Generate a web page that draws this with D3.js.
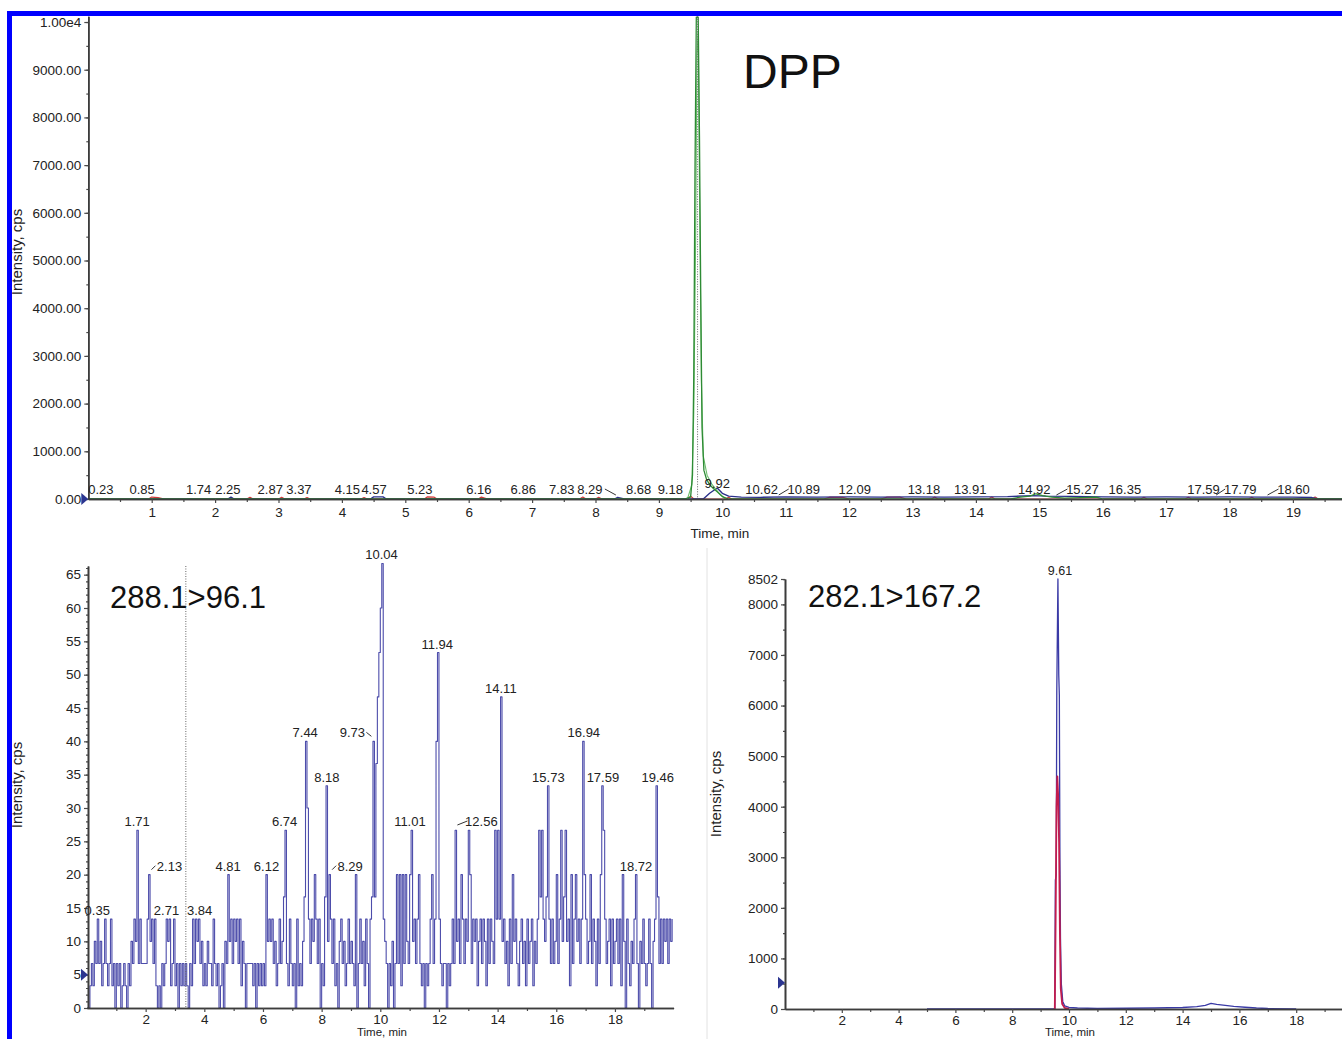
<!DOCTYPE html>
<html>
<head>
<meta charset="utf-8">
<script src="https://cdn.jsdelivr.net/npm/d3@7/dist/d3.min.js"></script>
<style>
  html, body { margin: 0; padding: 0; background: #fff; }
  svg { display: block; font-family: "Liberation Sans", Arial, sans-serif; }
  .axis path { stroke: #3c3c3c; stroke-width: 1.6; }
  .axis line { stroke: #4a4a4a; stroke-width: 1.2; }
  .axis text { fill: #222; font-size: 13.5px; font-family: "Liberation Sans", Arial, sans-serif; }
</style>
</head>
<body>
<svg id="chart" width="1342" height="1039"></svg>
<script>
// ---- top panel: DPP, all channels overlaid (time in min, intensity in cps)
const dppGreen = [[0,0],[9.40,0],[9.50,40],[9.53,500],[9.55,2600],[9.57,7000],[9.59,10100],[9.62,10100],
  [9.64,7600],[9.66,4300],[9.68,1500],[9.71,600],[9.75,420],[9.80,300],[9.86,220],[9.92,150],[10.00,50],
  [10.10,0],[14.55,0],[14.7,40],[14.85,60],[14.95,110],[15.05,70],[15.2,40],[15.4,20],[15.9,40],[16.0,0],[20,0]];
const dppGreen2 = [[9.45,0],[9.52,300],[9.55,1800],[9.58,5500],[9.60,9300],[9.62,9800],[9.64,6500],
  [9.67,2500],[9.70,900],[9.76,500],[9.84,300],[9.95,120],[10.05,0]];
const dppBlue = [[0,0],[2.2,0],[2.25,40],[2.3,0],[4.45,0],[4.5,45],[4.65,45],[4.7,0],[8.3,0],[8.35,35],
  [8.45,0],[9.7,0],[9.8,120],[9.92,230],[10.0,120],[10.1,60],[10.3,40],[10.6,35],[11,45],[11.5,40],[12,45],
  [12.5,40],[13,45],[13.5,40],[14,45],[14.5,50],[14.9,70],[15.1,60],[15.5,55],[16,45],[16.5,40],[17,45],
  [17.5,40],[18,45],[18.5,40],[19,40],[19.3,30],[19.4,0],[20,0]];
const dppRed = [[0,0],[0.95,0],[1.0,40],[1.1,30],[1.2,0],[2.5,0],[2.55,35],[2.6,0],[3.0,0],[3.05,35],
  [3.1,0],[3.4,0],[3.45,30],[3.5,0],[4.3,0],[4.35,30],[4.4,0],[5.3,0],[5.35,45],[5.45,40],[5.5,0],
  [6.15,0],[6.2,40],[6.3,0],[7.75,0],[7.8,40],[7.85,0],[8.0,0],[8.05,35],[8.1,0],[9.45,0],[9.5,60],
  [9.55,0],[10.05,0],[10.1,35],[10.15,0],[11.6,0],[11.7,40],[11.9,35],[12.0,0],[12.5,0],[12.6,40],
  [12.8,40],[12.9,0],[13.3,0],[13.35,40],[13.4,0],[14.2,0],[14.25,40],[14.3,0],[16.6,0],[16.65,35],
  [16.7,0],[17.3,0],[17.35,35],[17.4,0],[18.3,0],[18.35,35],[18.4,0],[19.3,0],[19.35,40],[19.4,0],[20,0]];
const dppLabels = ["0.23","0.85","1.74","2.25","2.87","3.37","4.15","4.57","5.23","6.16","6.86","7.83",
  "8.29","8.68","9.18","9.92","10.62","10.89","12.09","13.18","13.91","14.92","15.27","16.35","17.59",
  "17.79","18.60"];
const dppLabelHeights = {"9.92": 130};
const dppMarker = 9.61;

// ---- bottom left: 288.1>96.1, counts sampled every 0.05 min (one row per minute)
const ch288Step = 0.05;
const cpsPerCount = 10 / 3;
const ch288Counts = [
  [0,0,1,2,1,3,2,4,2,3,1,2,4,2,1,2,4,1,2,0],
  [2,1,2,0,1,2,1,0,2,1,3,2,4,3,8,2,4,2,2,2],
  [2,4,6,3,4,2,4,1,0,1,0,2,1,2,4,3,4,1,2,4],
  [1,2,0,2,1,2,1,2,1,0,2,1,4,2,4,3,4,2,3,1],
  [2,1,3,2,2,1,4,2,1,2,0,1,2,0,3,2,6,3,4,2],
  [4,3,4,2,4,1,3,2,0,2,2,2,2,1,2,0,2,1,2,1],
  [2,1,6,3,4,3,4,2,3,1,2,4,2,3,5,8,2,1,4,2],
  [1,2,0,4,1,2,1,3,5,12,9,4,2,4,3,6,4,2,4,0],
  [2,1,5,10,3,6,4,2,4,1,2,0,3,4,2,3,1,2,4,2],
  [3,2,1,6,0,2,4,2,3,1,4,2,0,4,5,12,5,11,14,16],
  [18,20,4,3,2,0,2,1,3,0,2,6,2,6,1,6,2,6,3,2],
  [6,8,3,4,2,4,6,2,1,2,0,2,1,2,4,6,2,4,12,16],
  [4,2,1,2,2,0,2,1,2,4,2,8,3,4,2,6,4,2,4,3],
  [8,6,2,4,3,4,1,3,4,2,4,3,1,4,2,4,3,2,8,4],
  [8,4,14,3,4,2,3,1,4,2,6,3,4,2,1,3,4,2,3,1],
  [4,2,3,4,1,3,2,4,8,5,8,4,3,5,10,4,2,4,2,3],
  [6,2,4,8,3,5,8,3,4,1,6,2,4,6,3,4,2,4,12,6],
  [4,2,3,6,2,4,3,1,4,2,6,10,8,4,2,3,4,1,4,2],
  [3,4,2,4,1,6,3,0,4,2,1,3,2,4,6,2,0,3,2,4],
  [2,1,2,4,2,0,3,4,10,5,2,4,2,4,3,4,2,4,3,4]
];
// peak labels: [time, cps]
const ch288Labels = [[0.35,13.3],[1.71,26.7],[2.13,20],[2.71,13.3],[3.84,13.3],[4.81,20],[6.12,20],
  [6.74,26.7],[7.44,40],[8.18,33.3],[8.29,20],[9.73,40],[10.04,66.7],[11.01,26.7],[11.94,53.3],
  [12.56,26.7],[14.11,46.7],[15.73,33.3],[16.94,40],[17.59,33.3],[18.72,20],[19.46,33.3]];
const ch288Marker = 3.37;

// ---- bottom right: 282.1>167.2
const ch282Blue = [[5,0],[9.50,0],[9.52,2550],[9.55,2650],[9.57,6300],[9.61,8502],[9.64,6600],
  [9.66,6200],[9.68,3000],[9.70,1400],[9.73,500],[9.78,150],[9.85,60],[10.0,30],[10.3,20],[11,10],
  [12,15],[13,20],[13.5,25],[14,30],[14.5,45],[14.8,70],[15.0,110],[15.2,90],[15.5,70],[15.8,50],
  [16.2,35],[16.6,20],[17,10],[18,0]];
const ch282Red = [[9.46,0],[9.50,0],[9.53,1800],[9.56,4000],[9.59,4600],[9.62,4200],[9.65,3300],
  [9.68,1500],[9.71,400],[9.76,100],[9.85,20],[10,0]];
const ch282Labels = [[9.61, 8502]];

const svg = d3.select("#chart");

function drawLine(g, data, x, y, color, width, curve) {
  g.append("path")
    .datum(data)
    .attr("fill", "none")
    .attr("stroke", color)
    .attr("stroke-width", width)
    .attr("stroke-linejoin", "round")
    .attr("d", d3.line().curve(curve || d3.curveLinear).x(d => x(d[0])).y(d => y(d[1])));
}

function yAxis(g, scale, major, minor, fmt) {
  g.append("g").attr("class", "axis").attr("transform", `translate(${scale.x0},0)`)
    .call(d3.axisLeft(scale).tickValues(minor).tickSize(2).tickSizeOuter(0).tickFormat(""));
  g.append("g").attr("class", "axis").attr("transform", `translate(${scale.x0},0)`)
    .call(d3.axisLeft(scale).tickValues(major).tickSize(4).tickPadding(3).tickSizeOuter(0).tickFormat(fmt));
}

function xAxis(g, scale, y0, major, minor, pad) {
  g.append("g").attr("class", "axis").attr("transform", `translate(0,${y0})`)
    .call(d3.axisBottom(scale).tickValues(minor).tickSize(3).tickSizeOuter(0).tickFormat(""));
  g.append("g").attr("class", "axis").attr("transform", `translate(0,${y0})`)
    .call(d3.axisBottom(scale).tickValues(major).tickSize(4).tickPadding(pad).tickSizeOuter(0).tickFormat(d3.format("d")));
}

function marker(g, x0, y) {
  g.append("path")
    .attr("d", `M${x0 - 7},${y - 6}L${x0},${y}L${x0 - 7},${y + 6}Z`)
    .attr("fill", "#2b3590");
}

function yTitle(g, x, y) {
  g.append("text")
    .attr("transform", `translate(${x},${y}) rotate(-90)`)
    .attr("text-anchor", "middle")
    .attr("font-size", 15)
    .attr("fill", "#222")
    .text("Intensity, cps");
}

function xTitle(g, x, y, size) {
  g.append("text")
    .attr("x", x).attr("y", y)
    .attr("text-anchor", "middle")
    .attr("font-size", size)
    .attr("fill", "#222")
    .text("Time, min");
}

function leader(g, x1, y1, x2, y2) {
  g.append("line")
    .attr("x1", x1).attr("y1", y1).attr("x2", x2).attr("y2", y2)
    .attr("stroke", "#333").attr("stroke-width", 1);
}

// ================= TOP PANEL =================
const gTop = svg.append("g");
const xTop = d3.scaleLinear().domain([0, 20]).range([88.3, 1356.3]);
const yTop = d3.scaleLinear().domain([0, 10120]).range([499, 16.3]);
yTop.x0 = 88.3;

drawLine(gTop, dppRed, xTop, yTop, "#d23a3a", 1.2);
drawLine(gTop, dppBlue, xTop, yTop, "#2a2f8a", 1.4);
drawLine(gTop, dppGreen2, xTop, yTop, "#6cbf6c", 1.1);
drawLine(gTop, dppGreen, xTop, yTop, "#2e8b35", 1.3);

gTop.append("line")
  .attr("x1", xTop(dppMarker)).attr("x2", xTop(dppMarker))
  .attr("y1", yTop(10120)).attr("y2", yTop(0))
  .attr("stroke", "#666").attr("stroke-width", 1)
  .attr("stroke-dasharray", "1,1.5");

yAxis(gTop, yTop, d3.range(0, 10001, 1000), d3.range(0, 10001, 500),
  d => d === 10000 ? "1.00e4" : d.toFixed(2));
xAxis(gTop, xTop, 499, d3.range(1, 20), d3.range(0.5, 20, 1), 4);
marker(gTop, 88.3, yTop(0));
yTitle(gTop, 22, 252);
xTitle(gTop, 720, 538, 13.5);

// label shifts (px) and leader lines for crowded labels
const dppShift = {"0.23": -2, "2.25": -3, "3.37": -3, "4.15": -4, "4.57": -4, "7.83": -23,
  "8.29": -24, "10.89": 25, "15.27": 26, "17.79": 24, "18.60": 26};
const dppLead = {"8.29": "right", "10.89": "left", "15.27": "left", "17.79": "left", "18.60": "left"};
const topLabels = gTop.append("g").attr("font-size", 13).attr("fill", "#222").attr("text-anchor", "middle");
for (const lab of dppLabels) {
  const t = +lab;
  const h = dppLabelHeights[lab] || 0;
  const px = xTop(t);
  const dx = dppShift[lab] || 0;
  const by = yTop(h) - 5;
  topLabels.append("text").attr("x", px + dx).attr("y", by).text(lab);
  if (dppLead[lab] === "left") leader(gTop, px, by + 1, px + dx - 15, by - 5);
  if (dppLead[lab] === "right") leader(gTop, px + dx + 15, by - 5, px + 2, by + 1);
}

gTop.append("text")
  .attr("x", 743).attr("y", 88)
  .attr("font-size", 48)
  .attr("fill", "#111")
  .text("DPP");

// ================= BOTTOM LEFT =================
const gBL = svg.append("g");
const xBL = d3.scaleLinear().domain([0, 20]).range([87, 673.6]);
const yBL = d3.scaleLinear().domain([0, 66.3]).range([1008, 566]);
yBL.x0 = 88;

const ch288 = [];
ch288Counts.forEach((row, m) => {
  row.forEach((c, k) => ch288.push([m + k * ch288Step, c * cpsPerCount]));
});
drawLine(gBL, ch288, xBL, yBL, "#4d4dab", 1.1, d3.curveStepAfter);

gBL.append("line")
  .attr("x1", xBL(ch288Marker)).attr("x2", xBL(ch288Marker))
  .attr("y1", yBL(66.3)).attr("y2", yBL(0))
  .attr("stroke", "#666").attr("stroke-width", 1)
  .attr("stroke-dasharray", "1,1.5");

yAxis(gBL, yBL, d3.range(0, 66, 5), d3.range(0, 67, 1), d3.format("d"));
xAxis(gBL, xBL, 1008, d3.range(2, 20, 2), d3.range(1, 20, 2), 2);
marker(gBL, 88, yBL(5));
yTitle(gBL, 22, 785);
xTitle(gBL, 382, 1036, 11.5);

const blShift = {"2.13": 20, "8.29": 20, "9.73": -20, "12.56": 26};
const blLead = {"2.13": "left", "8.29": "left", "9.73": "right", "12.56": "left"};
const blLabels = gBL.append("g").attr("font-size", 13).attr("fill", "#222").attr("text-anchor", "middle");
for (const [t, v] of ch288Labels) {
  const lab = t.toFixed(2);
  const px = xBL(t);
  const dx = blShift[lab] || 0;
  const by = yBL(v) - 4;
  blLabels.append("text").attr("x", px + dx).attr("y", by).text(lab);
  if (blLead[lab] === "left") leader(gBL, px + 2, by - 1, px + dx - 14, by - 5);
  if (blLead[lab] === "right") leader(gBL, px + dx + 14, by - 5, px - 1, by - 1);
}

gBL.append("text")
  .attr("x", 110).attr("y", 608)
  .attr("font-size", 31)
  .attr("fill", "#111")
  .text("288.1>96.1");

// divider between bottom panels
svg.append("line")
  .attr("x1", 707).attr("x2", 707).attr("y1", 548).attr("y2", 1039)
  .attr("stroke", "#e2e2e2").attr("stroke-width", 1);

// ================= BOTTOM RIGHT =================
const gBR = svg.append("g");
const xBR = d3.scaleLinear().domain([0, 20]).range([785, 1353]);
const yBR = d3.scaleLinear().domain([0, 8502]).range([1009, 579]);
yBR.x0 = 785;

drawLine(gBR, ch282Blue, xBR, yBR, "#3a3aa6", 1.3);
drawLine(gBR, ch282Red, xBR, yBR, "#c21c4e", 1.8);

yAxis(gBR, yBR, d3.range(0, 8001, 1000).concat([8502]), d3.range(0, 8502, 500), d3.format("d"));
xAxis(gBR, xBR, 1009, d3.range(2, 20, 2), d3.range(1, 20, 2), 2);
marker(gBR, 785, yBR(520));
yTitle(gBR, 721, 794);
xTitle(gBR, 1070, 1036, 11.5);

gBR.append("g").attr("font-size", 12.5).attr("fill", "#222").attr("text-anchor", "middle")
  .selectAll("text").data(ch282Labels).join("text")
  .attr("x", d => xBR(d[0]) + 2)
  .attr("y", d => yBR(d[1]) - 4)
  .text(d => d[0].toFixed(2));

gBR.append("text")
  .attr("x", 808).attr("y", 607)
  .attr("font-size", 31)
  .attr("fill", "#111")
  .text("282.1>167.2");

// ================= blue frame =================
svg.append("rect")
  .attr("x", 9.5).attr("y", 13.5)
  .attr("width", 1400).attr("height", 1100)
  .attr("fill", "none")
  .attr("stroke", "#0000ff")
  .attr("stroke-width", 5);
</script>
</body>
</html>
